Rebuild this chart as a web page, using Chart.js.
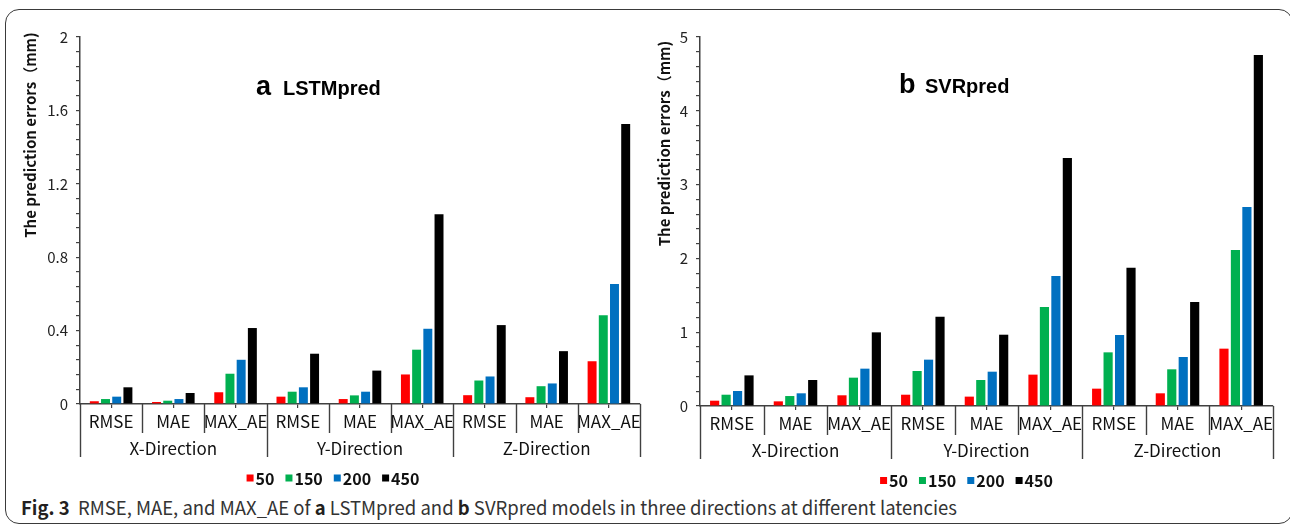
<!DOCTYPE html>
<html>
<head>
<meta charset="utf-8">
<script src="https://cdn.jsdelivr.net/npm/chart.js@4.4.1/dist/chart.umd.min.js"></script>
<style>
  html, body { margin: 0; padding: 0; background: #fff; }
  body { width: 1290px; height: 525px; position: relative; overflow: hidden; }
  #frame { position: absolute; left: 5px; top: 9px; width: 1288px; height: 515px; box-sizing: border-box;
           border: 1.3px solid #3a3a3a; border-radius: 14px; }
  canvas { position: absolute; top: 0; }
  #cvA { left: 0; }
  #cvB { left: 650px; }
  #caption { position: absolute; left: 21px; top: 493px; white-space: nowrap; transform-origin: 0 0;
             font-family: "Noto Sans CJK SC", "Noto Sans", sans-serif; font-size: 19px; color: #333; }
  #caption b { color: #231f20; }
</style>
</head>
<body>
<div id="frame"></div>
<canvas id="cvA" width="650" height="490"></canvas>
<canvas id="cvB" width="640" height="490"></canvas>
<div id="caption"><b>Fig. 3</b>&nbsp;&nbsp;RMSE, MAE, and MAX_AE of <b>a</b> LSTMpred and <b>b</b> SVRpred models in three directions at different latencies</div>

<script>
'use strict';

const categories = ['RMSE', 'MAE', 'MAX_AE', 'RMSE', 'MAE', 'MAX_AE', 'RMSE', 'MAE', 'MAX_AE'];
const directions = ['X-Direction', 'Y-Direction', 'Z-Direction'];
const latencies  = ['50', '150', '200', '450'];
const colors     = ['#FF0000', '#00B050', '#0070C0', '#000000'];

// LSTMpred (mm)
const lstm50  = [0.015, 0.011, 0.064, 0.040, 0.027, 0.161, 0.048, 0.037, 0.233];
const lstm150 = [0.027, 0.018, 0.165, 0.067, 0.047, 0.296, 0.128, 0.097, 0.483];
const lstm200 = [0.040, 0.027, 0.241, 0.091, 0.067, 0.410, 0.150, 0.112, 0.654];
const lstm450 = [0.091, 0.060, 0.414, 0.274, 0.182, 1.034, 0.430, 0.288, 1.526];

// SVRpred (mm)
const svr50  = [0.072, 0.063, 0.145, 0.153, 0.127, 0.425, 0.235, 0.172, 0.777];
const svr150 = [0.153, 0.135, 0.384, 0.474, 0.352, 1.342, 0.727, 0.497, 2.114];
const svr200 = [0.203, 0.172, 0.506, 0.628, 0.465, 1.762, 0.962, 0.664, 2.696];
const svr450 = [0.415, 0.352, 0.998, 1.210, 0.966, 3.360, 1.874, 1.410, 4.756];

const lstmTicks = ['0', '0.4', '0.8', '1.2', '1.6', '2'];
const svrTicks  = ['0', '1', '2', '3', '4', '5'];

const yTitle = 'The prediction errors（mm)';
const FONT = '"Noto Sans CJK SC", "Noto Sans", sans-serif';
const AXIS = '#404040';

// multi-level category axis, titles and legend
const decor = {
  id: 'decor',
  afterDraw(chart, args, o) {
    const { ctx, chartArea: a, scales: { x } } = chart;
    const base = a.bottom;
    const n = categories.length;
    const edge = i => i === 0 ? a.left : i === n ? a.right
      : (x.getPixelForValue(i - 1) + x.getPixelForValue(i)) / 2;
    ctx.save();
    ctx.strokeStyle = AXIS;
    ctx.lineWidth = 1.4;
    for (let i = 0; i <= n; i++) {
      const px = Math.round(edge(i)) + 0.5;
      ctx.beginPath();
      ctx.moveTo(px, base);
      ctx.lineTo(px, base + (i % 3 === 0 ? 53 : 29));
      ctx.stroke();
    }
    ctx.fillStyle = '#111';
    ctx.font = `17px ${FONT}`;
    ctx.textAlign = 'center';
    ctx.textBaseline = 'middle';
    directions.forEach((d, g) => ctx.fillText(d, (edge(g * 3) + edge(g * 3 + 3)) / 2, base + o.groupDy));

    // y title
    ctx.save();
    ctx.translate(o.titleX, o.titleY);
    ctx.rotate(-Math.PI / 2);
    ctx.font = `bold 15px ${FONT}`;
    ctx.fillText(yTitle, 0, 0);
    ctx.restore();

    // panel title
    ctx.textAlign = 'left';
    ctx.textBaseline = 'alphabetic';
    ctx.fillStyle = '#000';
    ctx.font = 'bold 27px "Liberation Sans", Arial, sans-serif';
    ctx.fillText(o.letter, o.letterX, o.panelY);
    ctx.font = 'bold 20px "Liberation Sans", Arial, sans-serif';
    ctx.fillText(o.name, o.nameX, o.panelY);

    // legend
    ctx.font = `bold 16px ${FONT}`;
    ctx.textBaseline = 'middle';
    const items = chart.data.datasets.map(ds => ({ t: ds.label, c: ds.backgroundColor, w: ctx.measureText(ds.label).width }));
    const total = items.reduce((s, it) => s + 8 + it.w, 0) + 11 * (items.length - 1);
    let lx = o.legendX - total / 2;
    items.forEach(it => {
      ctx.fillStyle = it.c;
      ctx.fillRect(lx, o.legendY - 3, 7, 7);
      ctx.fillStyle = '#111';
      ctx.fillText(it.t, lx + 9, o.legendY + 1);
      lx += 9 + it.w + 11;
    });
    ctx.restore();
  }
};

function makeChart(id, series, max, step, tickLabels, yWidth, xHeight, padRight, d) {
  const major = max / (tickLabels.length - 1);
  return new Chart(document.getElementById(id), {
    type: 'bar',
    data: {
      labels: categories,
      datasets: series.map((s, i) => ({
        label: latencies[i], data: s, backgroundColor: colors[i],
        borderWidth: 0, barPercentage: 0.8, categoryPercentage: 0.72,
      })),
    },
    options: {
      responsive: false, animation: false, devicePixelRatio: 1,
      layout: { padding: { top: 37, left: 0, right: padRight, bottom: 0 } },
      plugins: { legend: { display: false }, tooltip: { enabled: false }, decor: d },
      scales: {
        x: {
          offset: true,
          grid: { offset: false, drawOnChartArea: false, tickLength: 4, color: AXIS, lineWidth: 1.2 },
          border: { color: AXIS, width: 1.5 },
          ticks: { font: { family: FONT, size: 17 }, color: '#111', padding: 3, maxRotation: 0, minRotation: 0, autoSkip: false },
          afterFit: s => { s.height = xHeight; },
        },
        y: {
          min: 0, max: max,
          grid: { drawOnChartArea: false, tickLength: 4, color: AXIS, lineWidth: 1.2 },
          border: { color: AXIS, width: 1.5 },
          ticks: {
            stepSize: step, autoSkip: false, padding: 8,
            font: { family: FONT, size: 15 }, color: '#222',
            callback: v => {
              const k = v / major;
              return Math.abs(k - Math.round(k)) < 1e-6 ? tickLabels[Math.round(k)] : '';
            },
          },
          afterFit: s => { s.width = yWidth; },
        },
      },
    },
    plugins: [decor],
  });
}

makeChart('cvA', [lstm50, lstm150, lstm200, lstm450], 2, 0.08, lstmTicks, 80, 86, 10,
  { groupDy: 44.5, titleX: 30, titleY: 135, letter: 'a', letterX: 256, name: 'LSTMpred', nameX: 283, panelY: 95,
    legendX: 331, legendY: 477.5 });
makeChart('cvB', [svr50, svr150, svr200, svr450], 5, 0.2, svrTicks, 50, 84, 17,
  { groupDy: 45, titleX: 14, titleY: 143.5, letter: 'b', letterX: 249, name: 'SVRpred', nameX: 275, panelY: 93,
    legendX: 314.5, legendY: 480 });

// fit caption to its width in the figure
const cap = document.getElementById('caption');
cap.style.transform = `scaleX(${936 / cap.getBoundingClientRect().width})`;
</script>
</body>
</html>
